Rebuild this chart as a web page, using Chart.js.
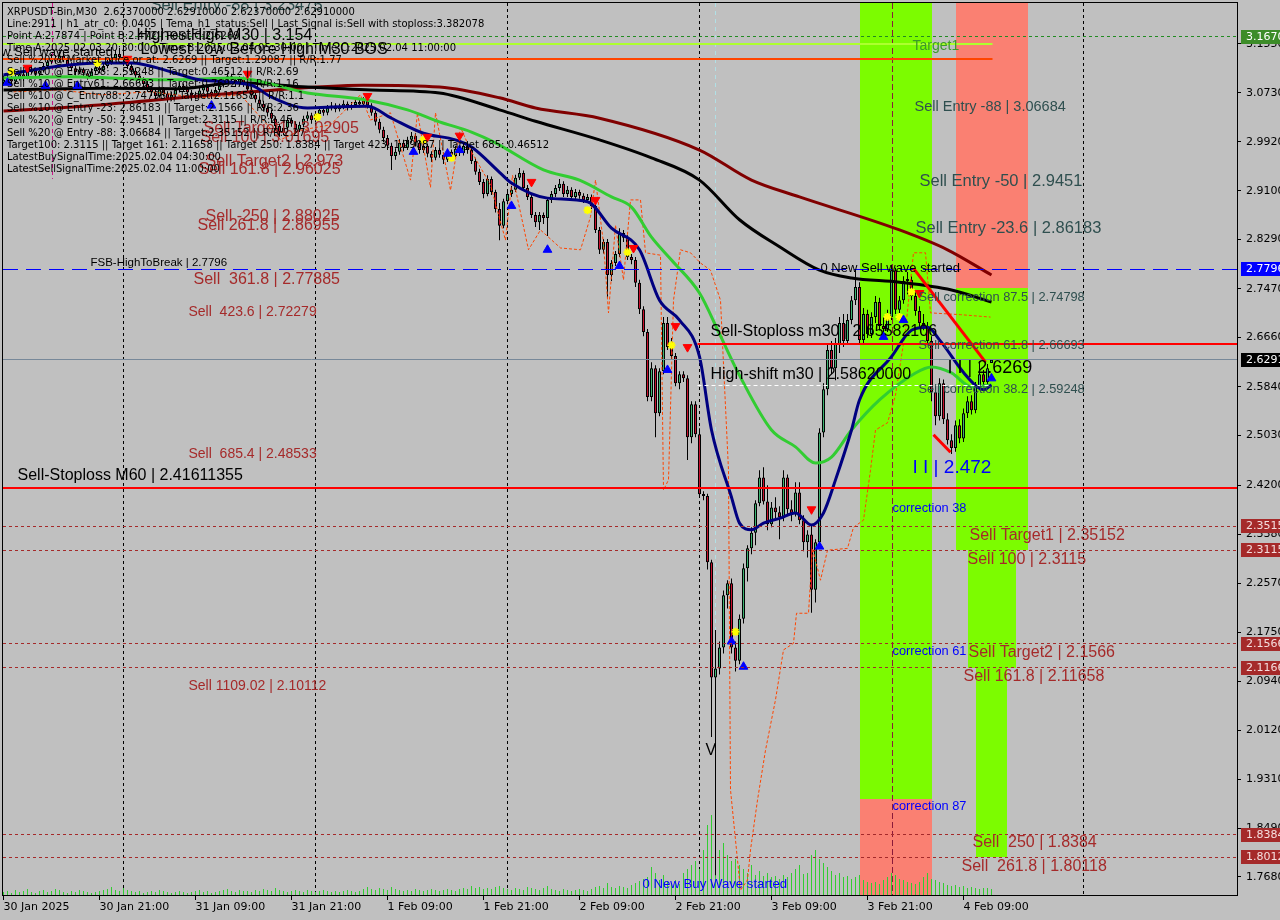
<!DOCTYPE html>
<html><head><meta charset="utf-8">
<script src="https://cdn.jsdelivr.net/npm/chart.js@4.4.1/dist/chart.umd.min.js"></script>
<style>html,body{margin:0;padding:0;background:#C0C0C0;overflow:hidden}canvas{display:block}</style>
</head><body>
<canvas id="c" width="1280" height="920" style="width:1280px;height:920px"></canvas>
<script>
// ---------- axis ticks ----------
const xTickIdx = [0,24,48,72,96,120,144,168,192,216,240];
const xTickLabels = ['30 Jan 2025','30 Jan 21:00','31 Jan 09:00','31 Jan 21:00','1 Feb 09:00','1 Feb 21:00','2 Feb 09:00','2 Feb 21:00','3 Feb 09:00','3 Feb 21:00','4 Feb 09:00'];
const yTickVals = [3.155,3.073,2.992,2.910,2.829,2.747,2.666,2.584,2.503,2.420,2.338,2.257,2.175,2.094,2.012,1.931,1.849,1.768];
const daySepIdx = [30,78,126,174,222,270];

// ---------- candles (M30 bars, index 0 = 30 Jan 09:00) ----------
const opens = [
3.090,3.095,3.100,3.092,3.098,3.104,3.099,3.108,3.112,3.105,
3.110,3.118,3.125,3.131,3.127,3.135,3.128,3.120,3.114,3.108,
3.112,3.106,3.101,3.109,3.115,3.111,3.118,3.124,3.131,3.138,
3.133,3.128,3.118,3.110,3.102,3.095,3.088,3.080,3.074,3.068,
3.079,3.072,3.064,3.070,3.078,3.085,3.080,3.074,3.066,3.070,
3.077,3.083,3.075,3.069,3.078,3.086,3.094,3.101,3.095,3.088,
3.096,3.088,3.079,3.070,3.062,3.055,3.048,3.040,3.030,3.018,
3.008,3.015,3.028,3.022,3.012,3.020,3.030,3.036,3.028,3.038,
3.045,3.040,3.048,3.052,3.046,3.050,3.055,3.049,3.053,3.058,
3.054,3.060,3.052,3.040,3.025,3.012,2.998,2.985,2.968,2.975,
2.990,2.982,2.995,3.002,2.990,2.978,2.985,2.972,2.965,2.978,
2.970,2.962,2.975,2.968,2.980,2.973,2.985,2.978,2.960,2.942,
2.925,2.905,2.930,2.908,2.880,2.852,2.893,2.905,2.912,2.932,
2.940,2.915,2.900,2.870,2.858,2.870,2.865,2.895,2.905,2.915,
2.922,2.905,2.912,2.900,2.908,2.902,2.895,2.900,2.885,2.845,
2.812,2.825,2.770,2.790,2.805,2.840,2.832,2.800,2.795,2.757,
2.713,2.675,2.567,2.615,2.540,2.610,2.690,2.650,2.635,2.590,
2.605,2.598,2.500,2.555,2.505,2.405,2.402,2.292,2.100,2.115,
2.150,2.237,2.257,2.150,2.128,2.198,2.282,2.315,2.341,2.390,
2.433,2.393,2.355,2.383,2.375,2.367,2.433,2.380,2.373,2.408,
2.362,2.325,2.338,2.246,2.325,2.508,2.580,2.645,2.615,2.655,
2.690,2.660,2.695,2.728,2.750,2.662,2.705,2.672,2.700,2.725,
2.685,2.680,2.700,2.778,2.712,2.728,2.760,2.762,2.735,2.710,
2.690,2.685,2.660,2.575,2.535,2.590,2.530,2.495,2.482,2.520,
2.498,2.540,2.560,2.545,2.585,2.605,2.592,2.6237];
const highs = [
3.102,3.106,3.104,3.103,3.110,3.108,3.113,3.119,3.115,3.116,
3.123,3.130,3.138,3.136,3.142,3.139,3.132,3.124,3.118,3.117,
3.115,3.110,3.114,3.120,3.118,3.123,3.130,3.137,3.145,3.148,
3.154,3.133,3.122,3.115,3.107,3.099,3.093,3.085,3.078,3.084,
3.083,3.076,3.075,3.083,3.090,3.089,3.084,3.078,3.075,3.082,
3.088,3.087,3.079,3.083,3.091,3.099,3.107,3.105,3.099,3.101,
3.100,3.092,3.083,3.075,3.067,3.060,3.052,3.045,3.034,3.022,
3.020,3.033,3.032,3.026,3.025,3.035,3.042,3.040,3.043,3.050,
3.049,3.053,3.058,3.056,3.055,3.061,3.059,3.058,3.064,3.062,
3.066,3.070,3.056,3.044,3.030,3.017,3.003,2.990,2.981,2.996,
2.995,3.000,3.008,3.006,2.994,2.990,2.989,2.976,2.983,2.982,
2.974,2.980,2.979,2.985,2.984,2.990,2.993,2.982,2.965,2.947,
2.930,2.936,2.934,2.912,2.890,2.897,2.910,2.918,2.937,2.948,
2.944,2.920,2.904,2.875,2.875,2.874,2.900,2.910,2.920,2.930,
2.926,2.918,2.916,2.913,2.912,2.906,2.905,2.904,2.890,2.850,
2.830,2.830,2.795,2.810,2.848,2.845,2.836,2.805,2.800,2.762,
2.718,2.680,2.625,2.620,2.615,2.700,2.700,2.665,2.640,2.610,
2.610,2.603,2.560,2.560,2.515,2.410,2.406,2.296,2.179,2.160,
2.245,2.262,2.265,2.160,2.205,2.290,2.320,2.350,2.395,2.445,
2.450,2.420,2.392,2.400,2.385,2.445,2.438,2.395,2.425,2.425,
2.370,2.345,2.355,2.330,2.515,2.590,2.655,2.660,2.665,2.700,
2.705,2.705,2.735,2.780,2.758,2.715,2.712,2.708,2.735,2.732,
2.700,2.712,2.787,2.782,2.735,2.768,2.775,2.768,2.742,2.718,
2.705,2.692,2.668,2.585,2.598,2.596,2.540,2.505,2.528,2.530,
2.548,2.568,2.570,2.592,2.627,2.612,2.622,2.6291];
const lows = [
3.085,3.090,3.086,3.088,3.094,3.093,3.096,3.104,3.100,3.101,
3.107,3.114,3.121,3.122,3.124,3.124,3.115,3.109,3.102,3.104,
3.101,3.095,3.097,3.105,3.106,3.108,3.114,3.120,3.127,3.128,
3.122,3.113,3.105,3.097,3.090,3.083,3.075,3.068,3.060,3.065,
3.067,3.057,3.060,3.066,3.074,3.075,3.069,3.060,3.062,3.066,
3.073,3.070,3.063,3.066,3.074,3.082,3.090,3.090,3.083,3.084,
3.083,3.074,3.065,3.057,3.050,3.043,3.034,3.024,3.010,3.000,
3.003,3.011,3.017,3.006,3.008,3.016,3.026,3.022,3.024,3.034,
3.035,3.036,3.044,3.041,3.042,3.046,3.044,3.045,3.049,3.049,
3.050,3.047,3.035,3.019,3.006,2.991,2.978,2.945,2.962,2.970,
2.976,2.978,2.990,2.984,2.972,2.973,2.966,2.958,2.961,2.965,
2.955,2.958,2.963,2.964,2.968,2.969,2.972,2.955,2.937,2.920,
2.898,2.901,2.903,2.874,2.828,2.848,2.888,2.900,2.908,2.928,
2.910,2.895,2.865,2.850,2.845,2.855,2.835,2.890,2.900,2.910,
2.900,2.900,2.895,2.895,2.897,2.890,2.890,2.880,2.840,2.805,
2.806,2.732,2.760,2.785,2.800,2.825,2.795,2.788,2.750,2.705,
2.668,2.560,2.560,2.500,2.535,2.605,2.645,2.630,2.585,2.580,
2.592,2.462,2.490,2.500,2.400,2.395,2.280,2.001,1.771,2.105,
2.140,2.215,2.140,2.110,2.122,2.190,2.260,2.305,2.320,2.385,
2.388,2.345,2.350,2.365,2.330,2.360,2.370,2.360,2.368,2.355,
2.310,2.300,2.208,2.225,2.318,2.500,2.570,2.605,2.595,2.640,
2.650,2.655,2.688,2.720,2.655,2.655,2.665,2.665,2.690,2.678,
2.672,2.675,2.695,2.705,2.700,2.722,2.738,2.728,2.702,2.682,
2.678,2.655,2.560,2.520,2.528,2.522,2.488,2.472,2.476,2.490,
2.492,2.532,2.538,2.540,2.578,2.585,2.588,2.6237];
const closes = [
3.095,3.100,3.092,3.098,3.104,3.099,3.108,3.112,3.105,3.110,
3.118,3.125,3.131,3.127,3.135,3.128,3.120,3.114,3.108,3.112,
3.106,3.101,3.109,3.115,3.111,3.118,3.124,3.131,3.138,3.133,
3.128,3.118,3.110,3.102,3.095,3.088,3.080,3.074,3.068,3.079,
3.072,3.064,3.070,3.078,3.085,3.080,3.074,3.066,3.070,3.077,
3.083,3.075,3.069,3.078,3.086,3.094,3.101,3.095,3.088,3.096,
3.088,3.079,3.070,3.062,3.055,3.048,3.040,3.030,3.018,3.008,
3.015,3.028,3.022,3.012,3.020,3.030,3.036,3.028,3.038,3.045,
3.040,3.048,3.052,3.046,3.050,3.055,3.049,3.053,3.058,3.054,
3.060,3.052,3.040,3.025,3.012,2.998,2.985,2.968,2.975,2.990,
2.982,2.995,3.002,2.990,2.978,2.985,2.972,2.965,2.978,2.970,
2.962,2.975,2.968,2.980,2.973,2.985,2.978,2.960,2.942,2.925,
2.905,2.930,2.908,2.880,2.852,2.893,2.905,2.912,2.932,2.940,
2.915,2.900,2.870,2.858,2.870,2.865,2.895,2.905,2.915,2.922,
2.905,2.912,2.900,2.908,2.902,2.895,2.900,2.885,2.845,2.812,
2.825,2.770,2.790,2.805,2.840,2.832,2.800,2.795,2.757,2.713,
2.675,2.567,2.615,2.540,2.610,2.690,2.650,2.635,2.590,2.605,
2.598,2.500,2.555,2.505,2.405,2.402,2.292,2.100,2.115,2.150,
2.237,2.257,2.150,2.128,2.198,2.282,2.315,2.341,2.390,2.433,
2.393,2.355,2.383,2.375,2.367,2.433,2.380,2.373,2.408,2.362,
2.325,2.338,2.246,2.325,2.508,2.580,2.645,2.615,2.655,2.690,
2.660,2.695,2.728,2.750,2.662,2.705,2.672,2.700,2.725,2.685,
2.680,2.700,2.778,2.712,2.728,2.760,2.762,2.735,2.710,2.690,
2.685,2.660,2.575,2.535,2.590,2.530,2.495,2.482,2.520,2.498,
2.540,2.560,2.545,2.585,2.605,2.592,2.615,2.6291];
const volumes = [
3,4,2,5,3,4,6,3,2,4,5,3,4,6,5,3,2,4,3,5,4,3,2,3,4,5,6,8,5,4,7,5,4,3,4,2,3,4,3,5,4,3,2,3,4,3,2,3,4,5,3,4,2,3,4,5,6,4,3,5,4,
4,3,5,4,6,5,4,7,5,4,3,4,5,4,3,5,4,3,4,5,4,3,4,3,4,5,4,3,4,6,8,6,5,7,6,5,8,6,5,4,5,4,6,5,4,5,6,5,4,5,6,5,4,6,7,6,9,7,8,6,
7,6,8,9,7,6,5,7,6,5,8,7,6,5,7,9,6,5,4,6,5,4,5,6,5,4,6,8,9,7,12,8,7,9,8,7,10,12,14,16,
18,28,22,15,20,14,12,15,11,22,26,30,34,26,45,70,80,60,45,52,40,34,36,30,26,22,30,20,24,19,22,18,19,16,20,18,22,26,30,21,
22,40,45,36,32,28,24,20,22,18,19,16,18,20,15,13,12,13,11,15,18,22,20,16,15,13,12,11,13,18,22,16,15,13,12,10,9,10,8,9,7,8,7,6,7,7,6];

// ---------- moving averages (sampled) ----------
const navyIdx = [0,14,24,32,42,49,62,67,76,84,91,97,105,113,117,124,127,136,146,152,159,164,169,174,177,182,184,187,190,194,198,202,205,208,212,214,222,227,231,234,241,245,247];
const navyVal = [3.103,3.118,3.123,3.123,3.108,3.095,3.086,3.066,3.048,3.050,3.051,3.031,3.006,2.995,2.983,2.941,2.923,2.898,2.892,2.848,2.812,2.728,2.695,2.634,2.512,2.400,2.357,2.346,2.357,2.365,2.374,2.354,2.374,2.429,2.512,2.562,2.634,2.678,2.683,2.662,2.600,2.579,2.587];
const greenIdx = [0,16,41,58,76,91,101,109,117,123,135,144,152,157,162,167,174,179,184,192,198,203,207,212,219,228,232,237,242,247];
const greenVal = [3.098,3.100,3.095,3.098,3.073,3.061,3.045,3.025,3.008,2.990,2.945,2.928,2.900,2.883,2.833,2.795,2.740,2.672,2.603,2.512,2.484,2.457,2.467,2.512,2.562,2.607,2.617,2.607,2.584,2.587];
const blackIdx = [0,25,44,58,76,92,109,124,133,149,162,174,184,194,204,212,224,237,247];
const blackVal = [3.078,3.081,3.080,3.090,3.083,3.078,3.073,3.045,3.026,2.995,2.965,2.928,2.862,2.817,2.778,2.765,2.758,2.745,2.725];
const maroonIdx = [0,20,62,90,109,124,133,149,174,187,199,224,236,247];
const maroonVal = [3.043,3.051,3.075,3.086,3.083,3.065,3.048,3.031,2.978,2.928,2.900,2.845,2.812,2.770];
const orangeIdx = [2.5,14.25,24.25,36.75,49.25,59.25,69.25,74.25,81.75,89.25,91.75,96.75,101.75,103.5,106.75,108,111.75,114.25,116.75,121.75,125.5,127.25,131.25,134.25,139.25,144.25,146.75,148,150,151.25,153,155,156.75,159.25,160.5,164.25,165,166.25,167.5,169.25,171.75,174.25,176.75,179.25,181.25,181.75,184.25,186,186.75,188.5,190.5,193,195,197.5,198.25,201.25,202.25,204.25,206,211,212.5,215,216.75,218,221,223,225.5,227.5,230.5,231.75,239.25,246.75];
const orangeVal = [3.075,3.078,3.070,3.075,3.065,3.070,2.995,3.011,3.020,3.070,3.028,3.040,2.928,3.040,2.916,3.040,2.911,3.016,2.978,2.920,2.828,2.936,2.812,2.845,2.815,2.812,2.867,2.928,2.823,2.707,2.853,2.762,2.895,2.895,2.807,2.803,2.412,2.429,2.728,2.812,2.807,2.790,2.778,2.728,2.445,1.913,1.746,1.763,1.813,1.896,1.979,2.063,2.146,2.157,2.207,2.207,2.315,2.262,2.312,2.315,2.350,2.362,2.445,2.512,2.524,2.570,2.678,2.807,2.807,2.707,2.704,2.700];

// ---------- signal markers ----------
const sellArrowIdx = [6,31,61,91,106,114,132,148,157.5,168,171,202,229];
const sellArrowVal = [3.115,3.130,3.105,3.068,3.000,3.002,2.925,2.895,2.815,2.685,2.650,2.380,2.740];
const buyArrowIdx = [1,10.5,18.5,52,102.5,111,114,127,136,154,166,182,185,204,220,225,247];
const buyArrowVal = [3.090,3.085,3.085,3.052,2.975,2.972,2.978,2.885,2.812,2.785,2.612,2.160,2.118,2.318,2.667,2.695,2.598];
const starIdx = [2,23.5,78.5,105,112,146,156,167,183,221,224,227];
const starVal = [3.108,3.123,3.033,2.995,2.965,2.878,2.808,2.653,2.176,2.700,2.700,2.742];

// ---------- zones ----------
const zoneFrom = [214,214,238,238,241,243];
const zoneTo = [232,232,256,256,253,251];
const zoneTop = [3.2228,1.898,3.2228,2.74798,2.3115,2.11658];
const zoneBottom = [1.898,1.738,2.74798,2.3115,2.11658,1.80118];
const zoneKind = ['buy','sell','sell','buy','buy','buy'];

// ---------- horizontal levels ----------
const levelPrice = [3.167,3.154,3.129,2.7796,2.65582106,2.6291,2.5862,2.41611355,2.35152,2.3115,2.1566,2.11658,1.8384,1.80118];
const levelFrom = [null,null,null,null,173.5,null,173.5,null,null,null,null,null,null,null];
const levelTo = [null,247.25,247.25,null,null,null,246.75,null,null,null,null,null,null,null];
const levelKind = ['gdash','lime','orange','bdash','red','price','wdash','red','brdash','brdash','brdash','brdash','brdash','brdash'];

const diagFromIdx = [227.5,232.5], diagFromVal = [2.781,2.504];
const diagToIdx = [245.5,236.75], diagToVal = [2.625,2.475];

const vlineIdx = [12.25,178,222.25];
const vlineTop = [3.2228,3.2228,3.2228];
const vlineBottom = [2.93,2.10,1.738];
const vlineKind = ['magenta','lightblue','maroondash'];

// right-side price boxes
const boxPrice = [3.167,2.7796,2.6291,2.35152,2.3115,2.1566,2.11658,1.8384,1.80118];
const boxKind = ['green','blue','black','brown','brown','brown','brown','brown','brown'];

// ---------- text objects (bar index, price) ----------
const labels = [
 {t:'Sell Entry -88 | 3.23475', i:36.75, p:3.219, s:'slate16'},
 {t:'HighestHigh M30 | 3.154', i:33.25, p:3.168, s:'black16'},
 {t:'Lowest Low Before High M30 BOS', i:34.25, p:3.145, s:'black16'},
 {t:'0 New Sell wave started', i:-7.5, p:3.140, s:'black13'},
 {t:'Sell Target1 | 3.02905', i:50, p:3.013, s:'brown16'},
 {t:'Sell 100 | 3.01695', i:49.25, p:2.999, s:'brown16'},
 {t:'Sell Target2 | 2.973', i:50.5, p:2.958, s:'brown16'},
 {t:'Sell 161.8 | 2.96025', i:48.75, p:2.945, s:'brown16'},
 {t:'Sell -250 | 2.88025', i:50.5, p:2.867, s:'brown16'},
 {t:'Sell 261.8 | 2.86955', i:48.5, p:2.853, s:'brown16'},
 {t:'FSB-HighToBreak | 2.7796', i:21.75, p:2.790, s:'black11'},
 {t:'Sell  361.8 | 2.77885', i:47.5, p:2.763, s:'brown16'},
 {t:'Sell  423.6 | 2.72279', i:46.25, p:2.708, s:'brown14'},
 {t:'Sell  685.4 | 2.48533', i:46.25, p:2.472, s:'brown14'},
 {t:'Sell-Stoploss M60 | 2.41611355', i:3.5, p:2.436, s:'black16'},
 {t:'Sell 1109.02 | 2.10112', i:46.25, p:2.086, s:'brown14'},
 {t:'Sell-Stoploss m30 | 2.65582106', i:176.75, p:2.675, s:'black16'},
 {t:'High-shift m30 | 2.58620000', i:176.75, p:2.605, s:'black16'},
 {t:'0 New Sell wave started', i:204.25, p:2.781, s:'black13'},
 {t:'Target1', i:227.25, p:3.151, s:'green14'},
 {t:'Sell Entry -88 | 3.06684', i:227.75, p:3.050, s:'slate14'},
 {t:'Sell Entry -50 | 2.9451', i:229, p:2.926, s:'slate16'},
 {t:'Sell Entry -23.6 | 2.86183', i:228, p:2.847, s:'slate16'},
 {t:'Sell correction 87.5 | 2.74798', i:228.75, p:2.733, s:'slate13'},
 {t:'Sell correction 61.8 | 2.66693', i:228.75, p:2.653, s:'slate13'},
 {t:'Sell correction 38.2 | 2.59248', i:228.75, p:2.579, s:'slate13'},
 {t:'I I | 2.6269', i:236, p:2.615, s:'black18'},
 {t:'I I | 2.472', i:227.25, p:2.449, s:'blue19'},
 {t:'correction 38', i:222.25, p:2.382, s:'blue12'},
 {t:'correction 61', i:222.25, p:2.144, s:'blue12'},
 {t:'correction 87', i:222.25, p:1.885, s:'blue12'},
 {t:'Sell Target1 | 2.35152', i:241.5, p:2.336, s:'brown16'},
 {t:'Sell 100 | 2.3115', i:241, p:2.296, s:'brown16'},
 {t:'Sell Target2 | 2.1566', i:241.25, p:2.141, s:'brown16'},
 {t:'Sell 161.8 | 2.11658', i:240, p:2.101, s:'brown16'},
 {t:'Sell  250 | 1.8384', i:242.25, p:1.825, s:'brown16'},
 {t:'Sell  261.8 | 1.80118', i:239.5, p:1.786, s:'brown16'},
 {t:'V', i:175.5, p:1.979, s:'black16'},
 {t:'0 New Buy Wave started', i:159.75, p:1.755, s:'blue13'}
];

const infoLines = [
 'XRPUSDT-Bin,M30  2.62370000 2.62910000 2.62370000 2.62910000',
 'Line:2911 | h1_atr_c0: 0.0405 | Tema_h1_status:Sell | Last Signal is:Sell with stoploss:3.382078',
 'Point A:2.7874 | Point B:2.472 | Point C:2.6269',
 'Time A:2025.02.03 20:30:00 | Time B:2025.02.04 05:30:00 | Time C:2025.02.04 11:00:00',
 'Sell %20 @ Market price or at: 2.6269 || Target:1.29087 || R/R:1.77',
 'Sell %10 @ Entry38: 2.59248 || Target:0.46512 || R/R:2.69',
 'Sell %10 @ Entry61: 2.66693 || Target:0.76927 || R/R:1.16',
 'Sell %10 @ C_Entry88: 2.74798 || Target:2.11658 || R/R:1.1',
 'Sell %10 @ Entry -23: 2.86183 || Target:2.1566 || R/R:2.36',
 'Sell %20 @ Entry -50: 2.9451 || Target:2.3115 || R/R:2.45',
 'Sell %20 @ Entry -88: 3.06684 || Target:2.35152 || R/R:2.27',
 'Target100: 2.3115 || Target 161: 2.11658 || Target 250: 1.8384 || Target 423: 1.29087 || Target 685: 0.46512',
 'LatestBuySignalTime:2025.02.04 04:30:00',
 'LatestSellSignalTime:2025.02.04 11:00:00'
];

// ---------- styles ----------
const ZONE_COLORS = {buy:'#7CFC00', sell:'#FA8072'};
const LEVEL_STYLES = {
  gdash:{c:'#228B22',w:1,d:[3,3]}, lime:{c:'#ADFF2F',w:2,d:[]}, orange:{c:'#FF4500',w:2,d:[]},
  bdash:{c:'#0000FF',w:1,d:[15,8]}, red:{c:'#FF0000',w:2,d:[]}, price:{c:'#778899',w:1,d:[]},
  wdash:{c:'#FFFFFF',w:1,d:[4,3]}, brdash:{c:'#A52A2A',w:1,d:[3,3]}
};
const VLINE_STYLES = {magenta:{c:'#C71585',d:[4,3]}, lightblue:{c:'#B0E0E6',d:[4,4]}, maroondash:{c:'#8B1A3A',d:[6,3]}};
const BOX_STYLES = {green:['#3C8C28','#FFFFFF'], blue:['#0000FF','#FFFFFF'], black:['#000000','#FFFFFF'], brown:['#A52A2A','#F5DEDE']};
const TEXT_STYLES = {
  black16:['#000000',16], black13:['#000000',13], black11:['#000000',11.5], black18:['#000000',18],
  brown16:['#A52A2A',16], brown14:['#A52A2A',14], slate16:['#2F4F4F',16.5], slate14:['#2F4F4F',14.5],
  slate13:['#2F4F4F',12.8], green14:['#3C9A2A',14], blue19:['#0000FF',19], blue12:['#0000FF',12.8], blue13:['#0000FF',13.2]
};
const SANS = '"Liberation Sans", Arial, sans-serif';

function seg(ctx, x0, y0, x1, y1){ ctx.beginPath(); ctx.moveTo(x0,y0); ctx.lineTo(x1,y1); ctx.stroke(); }
function noPad(s){ s.paddingTop=0; s.paddingBottom=0; s.paddingLeft=0; s.paddingRight=0; }

const mt4Plugin = {
  id:'mt4',
  beforeDraw(c){ const ctx=c.ctx; ctx.save(); ctx.fillStyle='#C0C0C0'; ctx.fillRect(0,0,c.width,c.height); ctx.restore(); },
  beforeDatasetsDraw(c){
    const {ctx, chartArea:a, scales:{x,y}} = c;
    ctx.save(); ctx.beginPath(); ctx.rect(a.left,a.top,a.right-a.left,a.bottom-a.top); ctx.clip();
    ctx.strokeStyle='#000'; ctx.lineWidth=1; ctx.setLineDash([3,3]);
    daySepIdx.forEach(i=>{ const px=Math.floor(x.getPixelForValue(i))+0.5; seg(ctx,px,a.top,px,a.bottom); });
    ctx.setLineDash([]);
    zoneFrom.forEach((f,k)=>{
      const x0=Math.round(x.getPixelForValue(f)), x1=Math.round(x.getPixelForValue(zoneTo[k]));
      const y0=Math.round(y.getPixelForValue(zoneTop[k])), y1=Math.round(y.getPixelForValue(zoneBottom[k]));
      ctx.fillStyle=ZONE_COLORS[zoneKind[k]]; ctx.fillRect(x0,y0,x1-x0,y1-y0);
    });
    vlineIdx.forEach((v,k)=>{
      const st=VLINE_STYLES[vlineKind[k]]; ctx.strokeStyle=st.c; ctx.setLineDash(st.d); ctx.lineWidth=1;
      const px=Math.floor(x.getPixelForValue(v))+0.5;
      seg(ctx,px,y.getPixelForValue(vlineTop[k]),px,y.getPixelForValue(vlineBottom[k]));
    });
    ctx.restore();
  },
  afterDatasetsDraw(c){
    const {ctx, chartArea:a, scales:{x,y}} = c;
    ctx.save(); ctx.beginPath(); ctx.rect(a.left,a.top,a.right-a.left,a.bottom-a.top); ctx.clip();
    levelPrice.forEach((p,k)=>{
      const st=LEVEL_STYLES[levelKind[k]];
      ctx.strokeStyle=st.c; ctx.lineWidth=st.w; ctx.setLineDash(st.d);
      let py=y.getPixelForValue(p); py = st.w%2 ? Math.floor(py)+0.5 : Math.round(py);
      const x0 = levelFrom[k]===null ? a.left : x.getPixelForValue(levelFrom[k]);
      const x1 = levelTo[k]===null ? a.right : x.getPixelForValue(levelTo[k]);
      seg(ctx,x0,py,x1,py);
    });
    ctx.setLineDash([]); ctx.strokeStyle='#FF0000'; ctx.lineWidth=3;
    diagFromIdx.forEach((d,k)=>{ seg(ctx,x.getPixelForValue(d),y.getPixelForValue(diagFromVal[k]),x.getPixelForValue(diagToIdx[k]),y.getPixelForValue(diagToVal[k])); });
    ctx.textBaseline='middle'; ctx.textAlign='left';
    labels.forEach(L=>{
      const st=TEXT_STYLES[L.s]; ctx.fillStyle=st[0]; ctx.font=st[1]+'px '+SANS;
      ctx.fillText(L.t, x.getPixelForValue(L.i), y.getPixelForValue(L.p));
    });
    ctx.restore();
  },
  afterDraw(c){
    const {ctx, chartArea:a, scales:{y}} = c;
    ctx.save();
    ctx.strokeStyle='#000'; ctx.lineWidth=1; ctx.setLineDash([]);
    ctx.strokeRect(a.left-0.5, a.top-0.5, a.right-a.left+1, a.bottom-a.top+1);
    ctx.font='11px "DejaVu Sans", sans-serif'; ctx.textBaseline='middle'; ctx.textAlign='left';
    boxPrice.forEach((p,k)=>{
      const st=BOX_STYLES[boxKind[k]]; const py=Math.round(y.getPixelForValue(p));
      ctx.fillStyle=st[0]; ctx.fillRect(a.right+4, py-7, c.width-a.right-4, 14);
      ctx.fillStyle=st[1]; ctx.fillText(p.toFixed(4), a.right+9, py+0.5);
    });
    ctx.fillStyle='#000'; ctx.font='10px "DejaVu Sans", sans-serif';
    infoLines.forEach((t,k)=>{ ctx.fillText(t, 7, 12 + 12.1*k); });
    ctx.restore();
  }
};

const pts = (xs, ys) => xs.map((v,k)=>({x:v, y:ys[k]}));
const bodyColors = opens.map((o,i)=> closes[i] >= o ? '#3CB371' : '#C8102E');

new Chart(document.getElementById('c'), {
  type:'bar',
  data:{ datasets:[
    {type:'bar', label:'Volume', data: volumes.map((v,i)=>({x:i,y:v})), xAxisID:'x', yAxisID:'yv', backgroundColor:'#32CD32', barThickness:1, grouped:false, inflateAmount:0, order:10},
    {type:'bar', label:'Wick', data: lows.map((l,i)=>({x:i,y:[l,highs[i]]})), xAxisID:'x', yAxisID:'y', backgroundColor:'#000000', barThickness:1, grouped:false, inflateAmount:0, order:8},
    {type:'bar', label:'Body', data: opens.map((o,i)=>({x:i,y:[o,closes[i]]})), xAxisID:'x', yAxisID:'y', backgroundColor:bodyColors, borderColor:'#000000', borderWidth:1, borderSkipped:false, barThickness:3, minBarLength:2, grouped:false, inflateAmount:0, order:7},
    {type:'line', label:'Channel', data: pts(orangeIdx, orangeVal), yAxisID:'y', borderColor:'#FF4500', borderWidth:1, borderDash:[3,2], pointRadius:0, order:5},
    {type:'line', label:'MA maroon', data: pts(maroonIdx, maroonVal), yAxisID:'y', borderColor:'#800000', borderWidth:3, pointRadius:0, cubicInterpolationMode:'monotone', order:4},
    {type:'line', label:'MA black', data: pts(blackIdx, blackVal), yAxisID:'y', borderColor:'#000000', borderWidth:3, pointRadius:0, cubicInterpolationMode:'monotone', order:3.8},
    {type:'line', label:'MA green', data: pts(greenIdx, greenVal), yAxisID:'y', borderColor:'#32CD32', borderWidth:3, pointRadius:0, cubicInterpolationMode:'monotone', order:3.5},
    {type:'line', label:'MA navy', data: pts(navyIdx, navyVal), yAxisID:'y', borderColor:'#000080', borderWidth:3, pointRadius:0, cubicInterpolationMode:'monotone', order:3},
    {type:'line', label:'Sell', data: pts(sellArrowIdx, sellArrowVal), yAxisID:'y', showLine:false, pointStyle:'triangle', rotation:180, pointRadius:5, backgroundColor:'#FF0000', borderColor:'#FF0000', order:1},
    {type:'line', label:'Buy', data: pts(buyArrowIdx, buyArrowVal), yAxisID:'y', showLine:false, pointStyle:'triangle', pointRadius:5, backgroundColor:'#0000FF', borderColor:'#0000FF', order:1},
    {type:'line', label:'Star', data: pts(starIdx, starVal), yAxisID:'y', showLine:false, pointStyle:'star', pointRadius:4, borderWidth:2, backgroundColor:'#FFFF00', borderColor:'#FFFF00', order:1}
  ]},
  options:{
    responsive:false, animation:false, devicePixelRatio:1,
    layout:{autoPadding:false, padding:{left:3, top:3, right:0, bottom:0}},
    plugins:{legend:{display:false}, tooltip:{enabled:false}},
    scales:{
      x:{type:'linear', position:'bottom', min:-0.125, max:308.375, offset:false,
         grid:{drawOnChartArea:false, drawTicks:true, tickLength:5, color:'#000', offset:false},
         border:{display:true, color:'#000'},
         ticks:{align:'start', maxRotation:0, minRotation:0, autoSkip:false, color:'#000', padding:1,
                font:{family:'DejaVu Sans', size:11},
                callback:(v)=>{ const k=xTickIdx.indexOf(v); return k>=0 ? xTickLabels[k] : ''; }},
         afterBuildTicks:(s)=>{ s.ticks = xTickIdx.map(v=>({value:v})); },
         afterFit:(s)=>{ s.height = 25; noPad(s); }},
      y:{type:'linear', position:'right', min:1.738, max:3.2228,
         grid:{drawOnChartArea:false, drawTicks:true, tickLength:4, color:'#000'},
         border:{display:true, color:'#000'},
         ticks:{color:'#000', padding:5, autoSkip:false, font:{family:'DejaVu Sans', size:11}, callback:(v)=>Number(v).toFixed(4)},
         afterBuildTicks:(s)=>{ s.ticks = yTickVals.map(v=>({value:v})); },
         afterFit:(s)=>{ s.width = 43; noPad(s); }},
      yv:{type:'linear', display:false, min:0, max:892}
    }
  },
  plugins:[mt4Plugin]
});
</script></body></html>
